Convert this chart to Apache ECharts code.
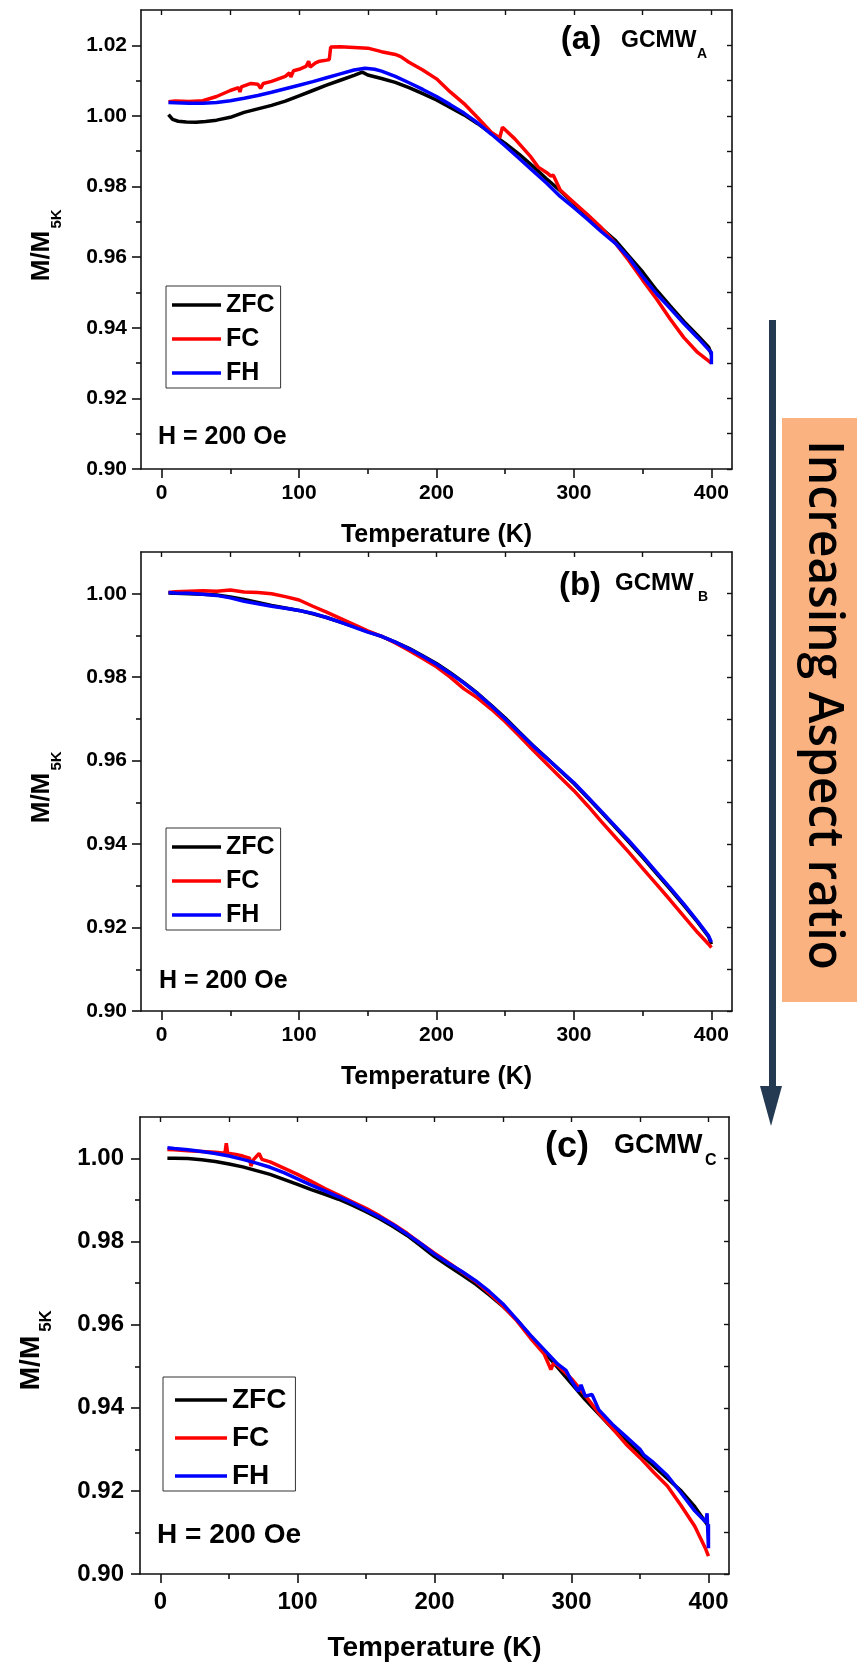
<!DOCTYPE html>
<html>
<head>
<meta charset="utf-8">
<script src="https://cdn.jsdelivr.net/npm/echarts@6/dist/echarts.min.js"></script>
<style>
  html, body { margin: 0; padding: 0; background: #fff; }
  #main { width: 857px; height: 1668px; }
</style>
</head>
<body>
<div id="main"></div>
<script>
// ---- data (T in K, M/M5K) ----
// panel (a) GCMW_A
var aZfcT = [5, 8, 12, 18, 25, 32, 40, 50, 60, 70, 80, 90, 100, 110, 120, 130, 140, 146, 150, 160, 170, 180, 190, 200, 210, 220, 230, 240, 250, 260, 270, 280, 290, 300, 310, 320, 330, 340, 350, 360, 370, 380, 390, 398, 400];
var aZfc = [1.0004, 0.9990, 0.9985, 0.9983, 0.9982, 0.9984, 0.9988, 0.9996, 1.0010, 1.0020, 1.0030, 1.0042, 1.0057, 1.0072, 1.0087, 1.0101, 1.0115, 1.0124, 1.0116, 1.0106, 1.0095, 1.0080, 1.0063, 1.0045, 1.0024, 1.0003, 0.9978, 0.9950, 0.9922, 0.9892, 0.9858, 0.9822, 0.9788, 0.9752, 0.9718, 0.9682, 0.9648, 0.9603, 0.9558, 0.9507, 0.9462, 0.9418, 0.9378, 0.9345, 0.9325];
var aFcT = [5, 10, 20, 30, 40, 50, 56, 57, 58, 65, 70, 72, 74, 80, 90, 93, 94, 96, 100, 105, 107, 108, 112, 115, 120, 122, 123, 130, 140, 150, 160, 170, 174, 180, 190, 200, 210, 220, 230, 240, 246, 248, 257, 268, 274, 280, 283, 285, 290, 300, 310, 320, 330, 340, 350, 360, 370, 380, 390, 400];
var aFc = [1.0040, 1.0042, 1.0041, 1.0043, 1.0055, 1.0072, 1.0080, 1.0068, 1.0082, 1.0092, 1.0090, 1.0078, 1.0092, 1.0098, 1.0112, 1.0122, 1.0110, 1.0128, 1.0132, 1.0140, 1.0155, 1.0138, 1.0150, 1.0155, 1.0158, 1.0160, 1.0195, 1.0196, 1.0194, 1.0192, 1.0182, 1.0174, 1.0168, 1.0152, 1.0130, 1.0105, 1.0068, 1.0035, 0.9995, 0.9953, 0.9938, 0.9968, 0.9935, 0.9887, 0.9855, 0.9840, 0.9830, 0.9832, 0.9790, 0.9755, 0.9720, 0.9683, 0.9640, 0.9590, 0.9535, 0.9482, 0.9425, 0.9372, 0.9330, 0.9300];
var aFhT = [5, 10, 20, 30, 40, 50, 60, 70, 80, 90, 100, 110, 120, 130, 140, 148, 155, 160, 170, 180, 190, 200, 210, 220, 230, 240, 250, 260, 270, 280, 290, 300, 310, 320, 330, 340, 350, 360, 370, 380, 390, 398, 400, 400];
var aFh = [1.0038, 1.0037, 1.0036, 1.0036, 1.0038, 1.0043, 1.0050, 1.0058, 1.0067, 1.0077, 1.0087, 1.0097, 1.0108, 1.0119, 1.0130, 1.0135, 1.0132, 1.0127, 1.0112, 1.0094, 1.0075, 1.0055, 1.0032, 1.0008, 0.9980, 0.9948, 0.9915, 0.9880, 0.9845, 0.9810, 0.9772, 0.9740, 0.9707, 0.9672, 0.9640, 0.9598, 0.9545, 0.9497, 0.9455, 0.9412, 0.9372, 0.9338, 0.9330, 0.9297];

// panel (b) GCMW_B
var bT = [5, 10, 20, 30, 40, 50, 60, 70, 80, 90, 100, 110, 120, 130, 140, 150, 160, 170, 180, 190, 200, 210, 220, 230, 240, 250, 260, 270, 280, 290, 300, 310, 320, 330, 340, 350, 360, 370, 380, 390, 398, 400];
var bZfc = [1.0002, 1.0001, 1.0000, 0.9999, 0.9997, 0.9992, 0.9986, 0.9979, 0.9972, 0.9966, 0.9960, 0.9952, 0.9943, 0.9932, 0.9921, 0.9909, 0.9898, 0.9884, 0.9869, 0.9851, 0.9833, 0.9811, 0.9787, 0.9761, 0.9732, 0.9702, 0.9669, 0.9637, 0.9607, 0.9576, 0.9545, 0.9511, 0.9476, 0.9441, 0.9405, 0.9368, 0.9330, 0.9292, 0.9253, 0.9213, 0.9178, 0.9160];
var bFc = [1.0003, 1.0005, 1.0006, 1.0007, 1.0006, 1.0009, 1.0004, 1.0003, 1.0000, 0.9993, 0.9985, 0.9970, 0.9956, 0.9941, 0.9926, 0.9911, 0.9898, 0.9882, 0.9864, 0.9845, 0.9825, 0.9800, 0.9772, 0.9750, 0.9723, 0.9693, 0.9660, 0.9626, 0.9593, 0.9560, 0.9528, 0.9492, 0.9454, 0.9417, 0.9380, 0.9342, 0.9304, 0.9266, 0.9227, 0.9188, 0.9160, 0.9152];
var bFh = [1.0003, 1.0002, 1.0001, 0.9999, 0.9996, 0.9990, 0.9982, 0.9976, 0.9970, 0.9965, 0.9960, 0.9953, 0.9943, 0.9932, 0.9920, 0.9908, 0.9898, 0.9884, 0.9868, 0.9850, 0.9831, 0.9809, 0.9786, 0.9760, 0.9731, 0.9700, 0.9668, 0.9636, 0.9606, 0.9577, 0.9547, 0.9513, 0.9478, 0.9443, 0.9408, 0.9371, 0.9333, 0.9295, 0.9256, 0.9215, 0.9180, 0.9165];

// panel (c) GCMW_C
var cZfcT = [5, 10, 20, 30, 40, 50, 60, 70, 80, 90, 100, 110, 120, 130, 140, 150, 160, 170, 180, 190, 200, 210, 220, 230, 240, 250, 260, 270, 280, 290, 300, 310, 320, 330, 340, 350, 360, 370, 380, 390, 400];
var cZfc = [1.0001, 1.0001, 1.0000, 0.9997, 0.9993, 0.9987, 0.9980, 0.9971, 0.9962, 0.9950, 0.9938, 0.9925, 0.9914, 0.9902, 0.9888, 0.9872, 0.9855, 0.9836, 0.9815, 0.9790, 0.9764, 0.9742, 0.9720, 0.9698, 0.9672, 0.9644, 0.9612, 0.9573, 0.9535, 0.9497, 0.9458, 0.9420, 0.9385, 0.9350, 0.9320, 0.9290, 0.9260, 0.9230, 0.9200, 0.9162, 0.9115];
var cFcT = [5, 10, 20, 30, 40, 47, 48, 49, 55, 60, 65, 66, 68, 72, 74, 80, 90, 100, 110, 120, 130, 140, 150, 160, 170, 180, 190, 200, 210, 220, 230, 240, 250, 260, 270, 280, 285, 287, 290, 300, 310, 320, 330, 340, 350, 360, 370, 380, 390, 398, 400];
var cFc = [1.0022, 1.0021, 1.0019, 1.0017, 1.0015, 1.0013, 1.0037, 1.0013, 1.0010, 1.0006, 1.0001, 0.9982, 0.9998, 1.0012, 0.9998, 0.9992, 0.9977, 0.9962, 0.9945, 0.9928, 0.9912, 0.9896, 0.9880, 0.9862, 0.9842, 0.9820, 0.9796, 0.9772, 0.9750, 0.9727, 0.9704, 0.9676, 0.9645, 0.9610, 0.9568, 0.9530, 0.9492, 0.9508, 0.9502, 0.9470, 0.9430, 0.9387, 0.9350, 0.9312, 0.9280, 0.9245, 0.9212, 0.9165, 0.9115, 0.9060, 0.9043];
var cFhT = [5, 10, 20, 30, 40, 50, 60, 70, 80, 90, 100, 110, 120, 130, 140, 150, 160, 170, 180, 190, 200, 210, 220, 230, 240, 250, 260, 270, 280, 290, 296, 300, 305, 307, 310, 315, 320, 330, 340, 350, 353, 360, 370, 380, 390, 398, 399, 400, 400];
var cFh = [1.0026, 1.0024, 1.0021, 1.0017, 1.0012, 1.0006, 0.9998, 0.9989, 0.9979, 0.9966, 0.9951, 0.9936, 0.9922, 0.9908, 0.9893, 0.9876, 0.9859, 0.9840, 0.9818, 0.9795, 0.9770, 0.9748, 0.9728, 0.9706, 0.9680, 0.9650, 0.9613, 0.9575, 0.9540, 0.9505, 0.9490, 0.9465, 0.9440, 0.9455, 0.9428, 0.9432, 0.9395, 0.9360, 0.9330, 0.9300, 0.9286, 0.9268, 0.9237, 0.9195, 0.9152, 0.9125, 0.9146, 0.9062, 0.9120];

// tick values
var xMajor = [0, 100, 200, 300, 400];
var xMinor = [50, 150, 250, 350];
var xAll = [0, 50, 100, 150, 200, 250, 300, 350, 400];
var yMajorA = [0.90, 0.92, 0.94, 0.96, 0.98, 1.00, 1.02];
var yMinorA = [0.91, 0.93, 0.95, 0.97, 0.99, 1.01];
var yMajorBC = [0.90, 0.92, 0.94, 0.96, 0.98, 1.00];
var yMinorBC = [0.91, 0.93, 0.95, 0.97, 0.99];

var seriesNames = ['ZFC', 'FC', 'FH'];
var seriesColors = ['#000000', '#ff0000', '#0000ff'];

var FONT = '"Liberation Sans", Arial, Helvetica, sans-serif';

function pairs(t, v) {
    var out = [];
    for (var i = 0; i < t.length; i++) out.push([t[i], v[i]]);
    return out;
}

// layout of the three panels
var panels = [
    { grid: { left: 141, top: 10, width: 591, height: 459 }, yMax: 1.03, yMajor: yMajorA, yMinor: yMinorA,
      tickFont: 21, nameFont: 25, nameGap: 54, labelMargin: 14, data: [[aZfcT, aZfc], [aFcT, aFc], [aFhT, aFh]] },
    { grid: { left: 141, top: 552, width: 591, height: 459 }, yMax: 1.01, yMajor: yMajorBC, yMinor: yMinorBC,
      tickFont: 21, nameFont: 25, nameGap: 54, labelMargin: 14, data: [[bT, bZfc], [bT, bFc], [bT, bFh]] },
    { grid: { left: 140, top: 1117, width: 589, height: 457 }, yMax: 1.01, yMajor: yMajorBC, yMinor: yMinorBC,
      tickFont: 24, nameFont: 28, nameGap: 60, labelMargin: 16, data: [[cZfcT, cZfc], [cFcT, cFc], [cFhT, cFh]] }
];

var lineCol = '#111';
var grids = [], xAxes = [], yAxes = [], series = [];

panels.forEach(function (p, i) {
    grids.push(Object.assign({ outerBoundsMode: 'none', containLabel: false }, p.grid));
    var lbl = { fontSize: p.tickFont, fontWeight: 'bold', color: '#000', fontFamily: FONT };
    var yAll = p.yMajor.concat(p.yMinor).sort(function (a, b) { return a - b; });

    // bottom: major ticks + labels
    xAxes.push({
        gridIndex: i, type: 'value', position: 'bottom', min: -15, max: 415,
        axisLine: { show: true, onZero: false, lineStyle: { color: lineCol, width: 1.6 } },
        axisTick: { show: true, customValues: xMajor, length: 9, lineStyle: { color: lineCol, width: 1.6 } },
        axisLabel: Object.assign({ customValues: xMajor, margin: p.labelMargin }, lbl),
        splitLine: { show: false },
        name: 'Temperature (K)', nameLocation: 'middle', nameGap: p.nameGap,
        nameTextStyle: { fontSize: p.nameFont, fontWeight: 'bold', color: '#000', fontFamily: FONT }
    });
    // bottom: minor ticks
    xAxes.push({
        gridIndex: i, type: 'value', position: 'bottom', min: -15, max: 415,
        axisLine: { show: false, onZero: false },
        axisTick: { show: true, customValues: xMinor, length: 5, lineStyle: { color: lineCol, width: 1.6 } },
        axisLabel: { show: false }, splitLine: { show: false }
    });
    // top mirror
    xAxes.push({
        gridIndex: i, type: 'value', position: 'top', min: -15, max: 415,
        axisLine: { show: true, onZero: false, lineStyle: { color: lineCol, width: 1.6 } },
        axisTick: { show: true, inside: true, customValues: xAll, length: 5, lineStyle: { color: lineCol, width: 1.4 } },
        axisLabel: { show: false }, splitLine: { show: false }
    });

    // left: major ticks + labels
    yAxes.push({
        gridIndex: i, type: 'value', position: 'left', min: 0.90, max: p.yMax,
        axisLine: { show: true, onZero: false, lineStyle: { color: lineCol, width: 1.6 } },
        axisTick: { show: true, customValues: p.yMajor, length: 9, lineStyle: { color: lineCol, width: 1.6 } },
        axisLabel: Object.assign({ customValues: p.yMajor, margin: p.labelMargin,
            formatter: function (v) { return v.toFixed(2); } }, lbl),
        splitLine: { show: false }
    });
    // left: minor ticks
    yAxes.push({
        gridIndex: i, type: 'value', position: 'left', min: 0.90, max: p.yMax,
        axisLine: { show: false, onZero: false },
        axisTick: { show: true, customValues: p.yMinor, length: 5, lineStyle: { color: lineCol, width: 1.6 } },
        axisLabel: { show: false }, splitLine: { show: false }
    });
    // right mirror
    yAxes.push({
        gridIndex: i, type: 'value', position: 'right', min: 0.90, max: p.yMax,
        axisLine: { show: true, onZero: false, lineStyle: { color: lineCol, width: 1.6 } },
        axisTick: { show: true, inside: true, customValues: yAll, length: 5, lineStyle: { color: lineCol, width: 1.4 } },
        axisLabel: { show: false }, splitLine: { show: false }
    });

    p.data.forEach(function (d, k) {
        series.push({
            name: seriesNames[k], type: 'line',
            xAxisIndex: i * 3, yAxisIndex: i * 3,
            data: pairs(d[0], d[1]),
            symbol: 'none', showSymbol: false,
            lineStyle: { color: seriesColors[k], width: 3.5 },
            itemStyle: { color: seriesColors[k] }
        });
    });
});

// legends (one box per panel), flat line icons
function legendBox(left, top, fs, lh, iw, pad) {
    return {
        orient: 'vertical', left: left, top: top, selectedMode: false,
        icon: 'rect', itemWidth: iw, itemHeight: 3.5, itemGap: 8, padding: pad,
        borderColor: '#333', borderWidth: 1, backgroundColor: '#fff',
        textStyle: { fontSize: fs, lineHeight: lh, fontWeight: 'bold', color: '#000', fontFamily: FONT },
        data: seriesNames
    };
}
var legends = [
    legendBox(166, 286, 25, 26, 49, [6, 6, 2, 6]),
    legendBox(166, 828, 25, 26, 49, [6, 6, 2, 6]),
    legendBox(163, 1377, 28, 30, 52, [8, 9, 0, 12])
];

// text annotations
function txt(x, y, s, size) {
    return {
        type: 'text', x: x, y: y,
        style: { text: s, font: 'bold ' + size + 'px ' + FONT, fill: '#000', align: 'left', verticalAlign: 'middle' }
    };
}
function ctr(x, y, s, size, rot) {
    return {
        type: 'text', x: x, y: y, rotation: rot || 0,
        style: { text: s, font: 'bold ' + size + 'px ' + FONT, fill: '#000', align: 'center', verticalAlign: 'middle' }
    };
}

var graphics = [
    // panel labels
    ctr(581, 40, '(a)', 33), txt(621, 41, 'GCMW', 23), txt(697, 54, 'A', 14),
    ctr(580, 586, '(b)', 33), txt(615, 583, 'GCMW', 24), txt(698, 597, 'B', 14),
    ctr(567, 1147, '(c)', 36), txt(614, 1146, 'GCMW', 27), txt(705, 1161, 'C', 16),
    // field
    txt(158, 437, 'H = 200 Oe', 25), txt(159, 981, 'H = 200 Oe', 25), txt(157, 1535, 'H = 200 Oe', 28),
    // y-axis names M/M5K
    ctr(42, 256, 'M/M', 26, Math.PI / 2), ctr(57, 219, '5K', 15, Math.PI / 2),
    ctr(42, 798, 'M/M', 26, Math.PI / 2), ctr(57, 761, '5K', 15, Math.PI / 2),
    ctr(31, 1363, 'M/M', 28, Math.PI / 2), ctr(46, 1321, '5K', 17, Math.PI / 2),
    // arrow on the right
    { type: 'rect', shape: { x: 769, y: 320, width: 7, height: 768 }, style: { fill: '#243a52' } },
    { type: 'polygon', shape: { points: [[760, 1086], [782, 1086], [771, 1126]] }, style: { fill: '#243a52' } },
    { type: 'rect', shape: { x: 782, y: 418, width: 75, height: 584 }, style: { fill: '#fab281' } },
    {
        type: 'text', x: 823, y: 705, rotation: -Math.PI / 2,
        style: { text: 'Increasing Aspect ratio', font: '600 48px "Open Sans", sans-serif', fill: '#000',
                 align: 'center', verticalAlign: 'middle' }
    }
];

var chart = echarts.init(document.getElementById('main'), null, { renderer: 'canvas' });
chart.setOption({
    backgroundColor: '#fff',
    animation: false,
    grid: grids,
    xAxis: xAxes,
    yAxis: yAxes,
    legend: legends,
    series: series,
    graphic: graphics
});
</script>
</body>
</html>
